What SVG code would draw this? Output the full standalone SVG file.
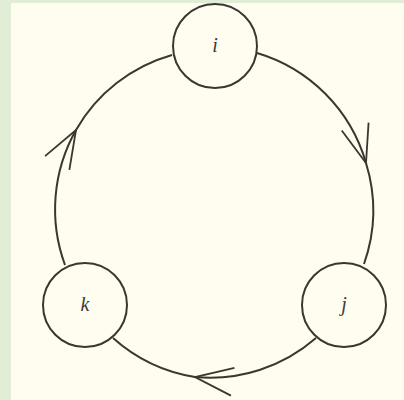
<svg xmlns="http://www.w3.org/2000/svg" width="404" height="400" viewBox="0 0 404 400">
<style>
.node circle{fill:none;stroke:#3a3630;stroke-width:2}
.node text{font-family:"Liberation Serif",serif;font-style:italic;font-size:20px;fill:#3e3a34;text-anchor:middle}
.edge{fill:none;stroke:#3a3630;stroke-width:2;marker-mid:url(#arr)}
</style>
<defs>
<marker id="arr" markerUnits="userSpaceOnUse" markerWidth="50" markerHeight="40" viewBox="-45 -20 50 40" refX="0" refY="0" orient="auto">
<path d="M-38,-14 L0,0 L-38,14" fill="none" stroke="#3a3630" stroke-width="1.8"/>
</marker>
</defs>
<rect x="0" y="0" width="404" height="400" fill="#e2edd8"/>
<rect x="11" y="3" width="393" height="397" fill="#fffdef"/>
<g id="connectors">
<path class="edge" d="M257,53 A161,161 0 0 1 366,163 A161,161 0 0 1 364,264"/>
<path class="edge" d="M316,338 A161,161 0 0 1 195,377 A161,161 0 0 1 113,338"/>
<path class="edge" d="M65,265 A161,161 0 0 1 76,130 A161,161 0 0 1 172,55"/>
</g>
<g id="node-i" class="node"><circle cx="215" cy="46" r="42"/><text x="215" y="52">i</text></g>
<g id="node-j" class="node"><circle cx="344" cy="305" r="42"/><text x="344" y="311">j</text></g>
<g id="node-k" class="node"><circle cx="85" cy="305" r="42"/><text x="85" y="311">k</text></g>
</svg>
